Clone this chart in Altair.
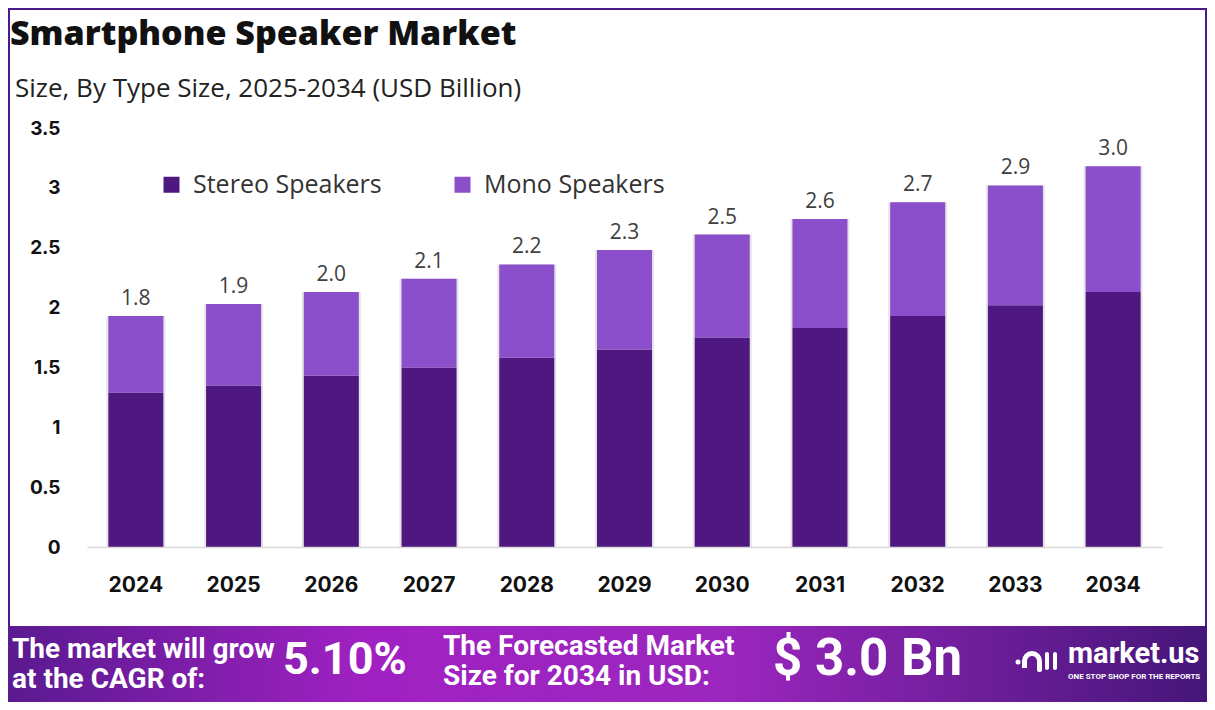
import altair as alt
import pandas as pd
import math

# ---------------- data ----------------
years = ["2024", "2025", "2026", "2027", "2028", "2029", "2030", "2031", "2032", "2033", "2034"]
stereo = [1.29, 1.35, 1.43, 1.50, 1.58, 1.65, 1.75, 1.83, 1.93, 2.02, 2.13]
mono = [0.64, 0.68, 0.70, 0.74, 0.78, 0.83, 0.86, 0.91, 0.95, 1.00, 1.05]
labels = ["1.8", "1.9", "2.0", "2.1", "2.2", "2.3", "2.5", "2.6", "2.7", "2.9", "3.0"]
segments = ["Stereo Speakers", "Mono Speakers"]
seg_colors = ["#4f1780", "#8b4fcb"]
y_ticks = [0, 0.5, 1, 1.5, 2, 2.5, 3, 3.5]

title_text = "Smartphone Speaker Market"
subtitle_text = "Size, By Type Size, 2025-2034 (USD Billion)"
cagr_lines = ["The market will grow", "at the CAGR of:"]
cagr_value = "5.10%"
forecast_lines = ["The Forecasted Market", "Size for 2034 in USD:"]
forecast_value = "$ 3.0 Bn"
brand = "market.us"
tagline = "ONE STOP SHOP FOR THE REPORTS"

rows = []
for i, yr in enumerate(years):
    rows.append({"year": yr, "segment": segments[0], "value": stereo[i], "ord": 0})
    rows.append({"year": yr, "segment": segments[1], "value": mono[i], "ord": 1})
bars_df = pd.DataFrame(rows)
tot_df = pd.DataFrame({
    "year": years,
    "total": [s + m for s, m in zip(stereo, mono)],
    "label": labels,
})

# ---------------- layout ----------------
W, H = 1075, 419
PL, PT = 79, 120
TW, TH = 1199, 694
PR, PB = TW - PL - W, TH - PT - H

one = pd.DataFrame({"k": [0]})

x_scale = alt.Scale(domain=years, paddingInner=0.437, paddingOuter=0.2185)
y_scale = alt.Scale(domain=[0, 3.5], nice=False)

x_enc = alt.X("year:N", sort=years, scale=x_scale,
              axis=alt.Axis(title=None, labelAngle=0, labelFont="Inter", labelFontWeight="bold",
                            labelFontSize=21, labelColor="#111111", labelPadding=27, ticks=False,
                            domainColor="#d9d9d9", domainWidth=1.5, grid=False, zindex=1))

def txt(s, x, y, size, weight="normal", color="#ffffff", font="Roboto", align="left", baseline="middle"):
    return alt.Chart(pd.DataFrame({"t": [s]})).mark_text(
        align=align, baseline=baseline, fontSize=size, fontWeight=weight, color=color, font=font
    ).encode(x=alt.value(x), y=alt.value(y), text="t:N")

frame = alt.Chart(one).mark_rect(fillOpacity=0, stroke="#4b1a8a", strokeWidth=2).encode(
    x=alt.value(-78), x2=alt.value(W + PR - 1), y=alt.value(-PT + 1), y2=alt.value(H + PB - 10))

shadow = alt.Chart(tot_df).mark_bar(size=59, color="#d4d4d4", opacity=0.6).encode(
    x=x_enc,
    y=alt.Y("total:Q", scale=y_scale, title=None),
)

bars = alt.Chart(bars_df).mark_bar().encode(
    x=x_enc,
    y=alt.Y("value:Q", stack="zero", scale=y_scale,
            axis=alt.Axis(title=None, values=y_ticks, format="~g", labelFont="Inter",
                          labelFontWeight="bold", labelFontSize=19, labelColor="#111111",
                          labelPadding=27, ticks=False, domain=False, grid=False, zindex=1)),
    color=alt.Color("segment:N", sort=segments,
                    scale=alt.Scale(domain=segments, range=seg_colors),
                    legend=alt.Legend(title=None, orient="none", legendX=72, legendY=44,
                                      direction="horizontal", symbolType="square",
                                      symbolSize=256, symbolStrokeWidth=0, labelFontSize=25,
                                      labelFont="Open Sans", labelColor="#333333", labelLimit=400,
                                      columnPadding=68, labelOffset=9, padding=0)),
    order=alt.Order("ord:Q"),
)

value_text = alt.Chart(tot_df).mark_text(
    baseline="alphabetic", dy=-11, fontSize=21, font="Open Sans", color="#404040"
).encode(x=x_enc, y=alt.Y("total:Q", scale=y_scale), text="label:N")

footer_grad = alt.Gradient(
    gradient="linear",
    stops=[alt.GradientStop(color="#5a1a90", offset=0),
           alt.GradientStop(color="#a021c2", offset=0.3),
           alt.GradientStop(color="#9b26be", offset=0.6),
           alt.GradientStop(color="#451679", offset=1)],
    x1=0, x2=1, y1=0, y2=0)

footer = alt.Chart(one).mark_rect(color=footer_grad).encode(
    x=alt.value(-PL), x2=alt.value(W + PR), y=alt.value(498), y2=alt.value(H + PB))

title = txt(title_text, -77, -83, 34, weight=800, color="#111111", font="Open Sans", baseline="alphabetic")
subtitle = txt(subtitle_text, -72, -31, 26, color="#222222", font="Open Sans", baseline="alphabetic")

foot_texts = [
    txt(cagr_lines[0], -75, 522, 28, weight="bold"),
    txt(cagr_lines[1], -75, 552, 28, weight="bold"),
    txt(cagr_value, 196, 532, 45, weight="bold"),
    txt(forecast_lines[0], 356, 519, 28, weight="bold"),
    txt(forecast_lines[1], 356, 549, 28, weight="bold"),
    txt(forecast_value, 686, 532, 51, weight="bold"),
    txt(brand, 981, 526, 29, weight="bold"),
    txt(tagline, 981, 549, 8, weight="bold"),
]

# logo glyph
arch = alt.Chart(one).mark_arc(color="#ffffff").encode(
    x=alt.value(945), y=alt.value(533), radius=alt.value(10), radius2=alt.value(5),
    theta=alt.value(1.5 * math.pi), theta2=alt.value(2.5 * math.pi))
leg1 = alt.Chart(one).mark_rect(color="#ffffff").encode(
    x=alt.value(935), x2=alt.value(940), y=alt.value(532), y2=alt.value(540))
leg2 = alt.Chart(one).mark_rect(color="#ffffff", cornerRadius=2).encode(
    x=alt.value(950), x2=alt.value(955), y=alt.value(532), y2=alt.value(544))
bar1 = alt.Chart(one).mark_rect(color="#ffffff", cornerRadius=2).encode(
    x=alt.value(958), x2=alt.value(962), y=alt.value(524), y2=alt.value(542))
bar2 = alt.Chart(one).mark_rect(color="#ffffff", cornerRadius=2).encode(
    x=alt.value(966), x2=alt.value(970), y=alt.value(524), y2=alt.value(542))
dot = alt.Chart(one).mark_point(filled=True, color="#ffffff", opacity=1, size=25).encode(
    x=alt.value(931), y=alt.value(534))

chart = alt.layer(
    frame, shadow, bars, value_text, footer, title, subtitle, *foot_texts,
    arch, leg1, leg2, bar1, bar2, dot
).resolve_scale(x="shared", y="shared").properties(
    width=W, height=H,
    padding={"left": PL, "top": PT, "right": PR, "bottom": PB},
    autosize=alt.AutoSizeParams(type="none"),
    background="#ffffff",
).configure_view(stroke=None)

chart.save("out.html", embed_options={"renderer": "svg", "actions": False})
